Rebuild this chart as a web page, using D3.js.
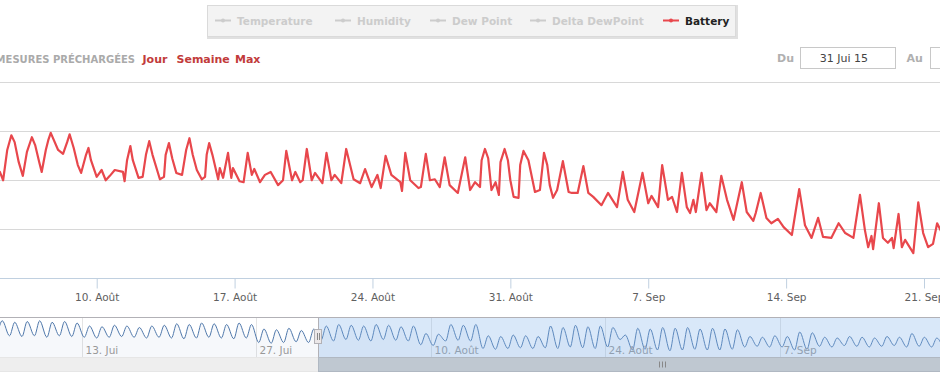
<!DOCTYPE html>
<html><head><meta charset="utf-8">
<script src="https://cdn.jsdelivr.net/npm/d3@7"></script>
<style>
html,body{margin:0;padding:0;background:#fff;overflow:hidden;}
svg{display:block;font-family:"DejaVu Sans",Verdana,sans-serif;}
</style></head><body>
<svg id="chart" width="940" height="380"></svg>
<script>
// ---------------- data ----------------
const legendItems = ["Temperature", "Humidity", "Dew Point", "Delta DewPoint", "Battery"];
const legendActive = [false, false, false, false, true];
const rangeButtons = ["Jour", "Semaine", "Max"];
const rangeLabel = "MESURES PRÉCHARGÉES";
const dateFromLabel = "Du", dateToLabel = "Au", dateFromValue = "31 Jui 15";
const frMonths = ["Janv", "Févr", "Mars", "Avr", "Mai", "Juin", "Jui", "Août", "Sep", "Oct", "Nov", "Déc"];
const mainTickDates = ["2015-08-10", "2015-08-17", "2015-08-24", "2015-08-31", "2015-09-07", "2015-09-14", "2015-09-21"];
const navTickDates = ["2015-07-13", "2015-07-27", "2015-08-10", "2015-08-24", "2015-09-07"];
const yGridValues = [60, 70, 80, 90, 100];
const selectionStart = "2015-08-01";

// Battery: hours since 2015-08-05 00:00 and value
const batteryHours = [-3,2,6,16,30,41,53,64,73,79,87,101,110,120,126,131,136,142,152,154,161,171,176,184,197,202,208,217,224,233,248,252,257,268,270,274,280,284,286,294,299,304,309,312,319,325,332,341,347,351,358,362,368,371,376,382,386,395,400,406,410,418,424,433,441,447,455,462,466,472,479,490,492,496,502,512,515,521,526,532,538,544,550,560,569,575,581,587,593,601,606,610,617,628,634,640,646,654,660,665,676,681,688,695,699,706,713,719,725,735,743,754,761,767,775,785,792,796,804,809,816,821,827,833,839,843,847,850,857,863,867,875,881,888,896,906,912,920,923,929,936,942,950,957,967,976,983,991,999,1005,1015,1024,1032,1042,1050,1056,1060,1064,1066,1073,1078,1084,1089,1091,1097,1101,1105,1115,1121,1127,1133,1139,1144,1154,
  // shoulder readings on the wider humps
  11,20,25,35,45,50,58,61,84,92,97,107,113,157,164,180,188,204,212,229,237,242,254,261,589,597,612,621,624,636,669,672];
const batteryValues = [80.5,81.7,80.0,89.2,80.9,88.8,81.7,89.7,86.2,85.4,89.4,81.5,86.6,80.7,82.1,80.0,80.9,82.1,81.7,79.8,87.0,80.5,80.7,88.0,80.2,80.7,87.6,81.5,81.1,88.6,80.2,80.7,87.6,80.2,82.5,80.5,85.6,80.5,82.5,79.8,79.6,85.6,81.1,82.3,79.6,81.1,81.7,79.0,80.0,86.0,80.0,81.7,79.6,80.0,86.4,80.0,81.5,79.4,85.6,80.0,81.1,79.4,86.4,80.2,79.4,82.3,78.6,81.1,78.4,85.0,81.1,79.6,77.8,85.6,80.0,78.4,78.6,85.4,80.0,80.2,78.6,84.7,79.0,77.4,84.7,78.0,79.6,78.6,86.4,78.0,79.6,77.0,86.4,76.6,76.4,86.0,84.1,77.6,78.0,85.6,76.4,78.0,83.9,77.6,77.4,77.4,82.9,77.4,76.6,74.9,77.4,74.5,81.7,76.0,73.5,81.5,75.3,76.8,74.5,83.1,76.0,76.6,73.5,81.5,74.5,73.3,76.0,73.5,81.5,73.9,75.3,73.5,80.9,76.0,71.9,79.6,73.5,71.7,73.3,77.4,72.3,71.2,72.1,70.4,68.8,78.2,70.8,68.2,72.3,68.4,68.2,71.2,69.2,68.2,77.0,69.8,66.3,68.6,65.9,75.3,68.2,67.2,68.2,66.1,73.1,66.3,67.8,65.1,75.5,69.2,66.3,67.0,71.2,67.8,
  86.2,87.8,83.7,85.8,87.2,83.7,86.2,88.2,87.8,86.6,83.1,85.2,84.1,84.1,84.1,85.2,85.2,85.2,84.5,86.2,85.2,82.1,85.2,85.2,84.1,84.5,83.7,84.1,80.0,83.1,83.1,79.0];

// Navigator (temperature): daily min / max from 2015-07-06
const navStart = "2015-07-06";
const navMax = [29.5,28.5,29,29.5,28.5,29,28, 26,25.5,26.5,26,25,26,26.5, 27.5,27,28,27.5,27,28,27, 24,23.5,24.5,23,24, 26,27,26.5,26,27,26.5,25.5,26, 21,20.5, 27,26.5,27, 19.5,19,20,19.5,19, 26,25,26.5,25.5,26,25, 20, 24.5,24,25,24.5,25,24,24.5,24,23.5, 19,18.5,19.5,19, 22,21.5, 18.5,18,19,18.5,18,19,18.5,21,18.5,18,21,20];
const navMin = [19,19.5,19,19.5,18.5,19.5,19, 18.5,18,18.5,19,18.5,18,18.5, 18,17.5,18,18.5,18,17.5,18, 15,14.5,15,15.5,15, 16.5,16,17,16.5,16,17,16.5,16, 13.5,13, 16,16.5,16, 11,10.5,11,11.5,11, 11.5,11,12,11.5,11,12, 17, 10,10.5,10,9.5,10,10.5,10,10,10.5, 12,12.5,12,12, 10,10.5, 12.5,12,13,12.5,12,12.5,13,12,12.5,12,12.5,13];

// ---------------- drawing ----------------
const svg = d3.select("#chart");
const W = 940, H = 380;
const parseDay = d3.timeParse("%Y-%m-%d");
const fmtTick = d => d.getDate() + ". " + frMonths[d.getMonth()];

const x = d3.scaleTime().domain([parseDay("2015-08-10"), parseDay("2015-09-21")]).range([96.7, 924]);
const y = d3.scaleLinear().domain([60, 100]).range([278, 82.5]);

svg.append("g").selectAll("line").data(yGridValues).join("line")
  .attr("x1", 0).attr("x2", W)
  .attr("y1", d => Math.floor(y(d)) + 0.5).attr("y2", d => Math.floor(y(d)) + 0.5)
  .attr("stroke", d => d === 60 ? "#c0d0e0" : "#d8d8d8").attr("stroke-width", 1);

const xAxis = d3.axisBottom(x).tickValues(mainTickDates.map(parseDay)).tickFormat(fmtTick).tickSize(10).tickPadding(5);
const gx = svg.append("g").attr("transform", "translate(0,278.5)").call(xAxis);
gx.select(".domain").remove();
gx.selectAll(".tick line").attr("stroke", "#c0d0e0");
gx.selectAll(".tick text").attr("fill", "#606060").style("font-size", "10.5px").style("font-family", "DejaVu Sans, Verdana, sans-serif");

const t0 = parseDay("2015-08-05");
const batteryData = d3.zip(batteryHours, batteryValues)
  .map(([h, v]) => ({ t: d3.timeMinute.offset(t0, Math.round(h * 60)), v }))
  .sort((a, b) => a.t - b.t);
svg.append("defs").append("clipPath").attr("id", "plotclip").append("rect").attr("x", -50).attr("y", 82).attr("width", W + 100).attr("height", 197);
svg.append("path").datum(batteryData)
  .attr("clip-path", "url(#plotclip)")
  .attr("fill", "none").attr("stroke", "#e8474c").attr("stroke-width", 2.2).attr("stroke-linejoin", "round")
  .attr("d", d3.line().x(d => x(d.t)).y(d => y(d.v)));

// ---------------- navigator ----------------
const navTop = 318, navBottom = 357.5;
const xNav = d3.scaleTime().domain([parseDay("2015-07-13"), parseDay("2015-09-07")]).range([81.7, 779.5]);
const yNav = d3.scaleLinear().domain([10, 30]).range([350, 320]);
const n0 = parseDay(navStart);
const navData = [];
navMax.forEach((mx, i) => {
  const day = d3.timeDay.offset(n0, i);
  navData.push({ t: d3.timeHour.offset(day, 5), v: navMin[i] });
  navData.push({ t: d3.timeHour.offset(day, 15), v: mx });
});
const gNav = svg.append("g");
gNav.append("rect").attr("x", 0).attr("y", navTop).attr("width", W).attr("height", navBottom - navTop).attr("fill", "#ffffff");
gNav.selectAll("line.ng").data(navTickDates.map(parseDay)).join("line").attr("class", "ng")
  .attr("x1", d => Math.round(xNav(d)) + 0.5).attr("x2", d => Math.round(xNav(d)) + 0.5)
  .attr("y1", navTop).attr("y2", navBottom).attr("stroke", "#e4e4e4");
gNav.append("path").datum(navData)
  .attr("fill", "rgba(69,114,167,0.05)")
  .attr("d", d3.area().curve(d3.curveMonotoneX).x(d => xNav(d.t)).y0(navBottom).y1(d => yNav(d.v)));
gNav.append("path").datum(navData)
  .attr("fill", "none").attr("stroke", "#4f78ab").attr("stroke-width", 1)
  .attr("d", d3.line().curve(d3.curveMonotoneX).x(d => xNav(d.t)).y(d => yNav(d.v)));
gNav.selectAll("text.nl").data(navTickDates.map(parseDay)).join("text").attr("class", "nl")
  .attr("x", d => Math.round(xNav(d)) + 3.5).attr("y", 353.5)
  .attr("fill", "#999").style("font-size", "10.5px").text(fmtTick);
const selX = xNav(parseDay(selectionStart));
gNav.append("rect").attr("x", selX).attr("y", navTop).attr("width", W - selX + 10).attr("height", navBottom - navTop)
  .attr("fill", "rgba(128,179,236,0.3)");
gNav.append("path").attr("fill", "none").attr("stroke", "#b2b1b6").attr("stroke-width", 1)
  .attr("d", `M0,${navTop - 0.5}H${W}M${Math.round(selX) + 0.5},${navTop}V${navBottom}`);
const sbTop = 357.5, sbH = 14;
svg.append("rect").attr("x", -1).attr("y", sbTop).attr("width", W + 2).attr("height", sbH)
  .attr("fill", "#eeeeee").attr("stroke", "#e6e6e6");
svg.append("rect").attr("x", Math.round(selX) + 0.5).attr("y", sbTop).attr("width", 700).attr("height", sbH)
  .attr("fill", "#bfc8d1").attr("stroke", "#b0b8c2");
[-3, 0, 3].forEach(dx => svg.append("line").attr("x1", 662.5 + dx).attr("x2", 662.5 + dx)
  .attr("y1", sbTop + 4).attr("y2", sbTop + 10).attr("stroke", "#888"));
svg.append("rect").attr("x", Math.round(selX) - 3.5).attr("y", 329.5).attr("width", 7).attr("height", 14)
  .attr("fill", "#ebe7e8").attr("stroke", "#b2b1b6");
[-1, 1].forEach(dx => svg.append("line").attr("x1", Math.round(selX) + dx + 0.5).attr("x2", Math.round(selX) + dx + 0.5)
  .attr("y1", 333).attr("y2", 340).attr("stroke", "#888"));

// ---------------- legend ----------------
const lg = svg.append("g");
lg.append("rect").attr("x", 208.5).attr("y", 6.5).attr("width", 528).attr("height", 31)
  .attr("fill", "none").attr("stroke", "rgba(0,0,0,0.12)").attr("stroke-width", 3);
lg.append("rect").attr("x", 207.5).attr("y", 5.5).attr("width", 528).attr("height", 31)
  .attr("fill", "#f3f3f3").attr("stroke", "#dadada");
const symX = [215, 335, 430, 530, 663];
legendItems.forEach((name, i) => {
  const col = legendActive[i] ? "#e8474c" : "#cccccc";
  lg.append("line").attr("x1", symX[i]).attr("x2", symX[i] + 16).attr("y1", 20.5).attr("y2", 20.5)
    .attr("stroke", col).attr("stroke-width", 2);
  lg.append("circle").attr("cx", symX[i] + 8).attr("cy", 20.5).attr("r", 2).attr("fill", col);
  lg.append("text").attr("x", symX[i] + 22).attr("y", 24.5)
    .attr("fill", legendActive[i] ? "#222" : "#cccccc").style("font-size", "10.5px").style("font-weight", "bold")
    .text(name);
});

// ---------------- range selector ----------------
svg.append("text").attr("x", 135).attr("y", 62.5).attr("text-anchor", "end")
  .attr("fill", "#aaaaaa").style("font-size", "10px").style("font-weight", "bold").text(rangeLabel);
const btnX = [142.5, 176.5, 235];
rangeButtons.forEach((b, i) => svg.append("text").attr("x", btnX[i]).attr("y", 62.5)
  .attr("fill", "#c23b3b").style("font-size", "11px").style("font-weight", "bold").text(b));

svg.append("text").attr("x", 777).attr("y", 62).attr("fill", "#b0b0b0").style("font-size", "11px").style("font-weight", "bold").text(dateFromLabel);
svg.append("rect").attr("x", 800.5).attr("y", 47.5).attr("width", 95).attr("height", 21).attr("fill", "#fff").attr("stroke", "#c8c8c8");
svg.append("text").attr("x", 844).attr("y", 62).attr("text-anchor", "middle").attr("fill", "#444").style("font-size", "11px").text(dateFromValue);
svg.append("text").attr("x", 906.5).attr("y", 62).attr("fill", "#b0b0b0").style("font-size", "11px").style("font-weight", "bold").text(dateToLabel);
svg.append("rect").attr("x", 930.5).attr("y", 47.5).attr("width", 95).attr("height", 21).attr("fill", "#fff").attr("stroke", "#c8c8c8");
</script>
</body></html>
